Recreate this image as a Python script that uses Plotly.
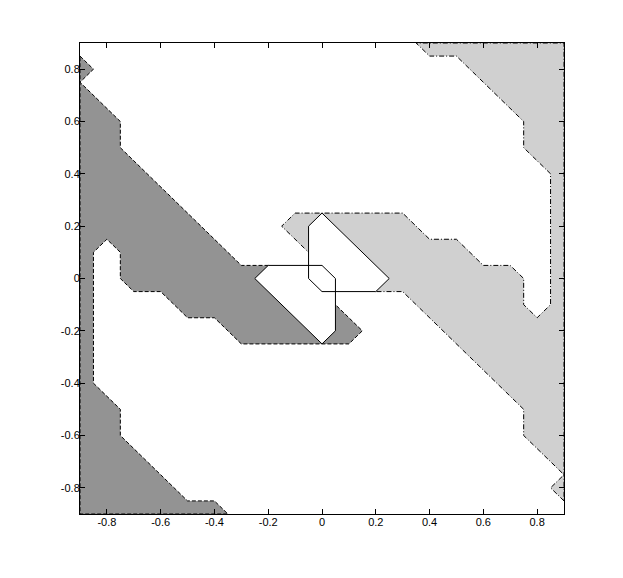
import plotly.graph_objects as go

# Dark region boundary (contour level, dark gray)
dark_x = [-0.9, -0.85, -0.9, -0.75, -0.75, -0.3, -0.2, 0.0, 0.05, 0.15, 0.1, -0.3, -0.4, -0.5,
          -0.6, -0.7, -0.75, -0.75, -0.8, -0.85, -0.85, -0.75, -0.75, -0.5, -0.4, -0.35, -0.9, -0.9]
dark_y = [0.85, 0.8, 0.75, 0.6, 0.5, 0.05, 0.05, -0.05, -0.1, -0.2, -0.25, -0.25, -0.15, -0.15,
          -0.05, -0.05, 0.0, 0.1, 0.15, 0.1, -0.4, -0.5, -0.6, -0.85, -0.85, -0.9, -0.9, 0.85]

# Light region boundary (point-symmetric counterpart)
light_x = [0.9, 0.85, 0.9, 0.75, 0.75, 0.3, 0.2, 0.0, -0.05, -0.15, -0.1, 0.3, 0.4, 0.5,
           0.6, 0.7, 0.75, 0.75, 0.8, 0.85, 0.85, 0.75, 0.75, 0.5, 0.4, 0.35, 0.9, 0.9]
light_y = [-0.85, -0.8, -0.75, -0.6, -0.5, -0.05, -0.05, 0.05, 0.1, 0.2, 0.25, 0.25, 0.15, 0.15,
           0.05, 0.05, 0.0, -0.1, -0.15, -0.1, 0.4, 0.5, 0.6, 0.85, 0.85, 0.9, 0.9, -0.85]

# White hexagons
hexa_x = [-0.25, -0.2, 0.0, 0.05, 0.05, 0.0, -0.25]
hexa_y = [0.0, 0.05, 0.05, 0.0, -0.2, -0.25, 0.0]
hexb_x = [0.25, 0.2, 0.0, -0.05, -0.05, 0.0, 0.25]
hexb_y = [0.0, -0.05, -0.05, 0.0, 0.2, 0.25, 0.0]

tick_vals = [-0.8, -0.6, -0.4, -0.2, 0, 0.2, 0.4, 0.6, 0.8]
tick_text = ["-0.8", "-0.6", "-0.4", "-0.2", "0", "0.2", "0.4", "0.6", "0.8"]

fig = go.Figure()
fig.add_trace(go.Scatter(x=dark_x, y=dark_y, mode="lines", fill="toself",
                         fillcolor="#939393",
                         line=dict(color="black", width=1, dash="4px,2px")))
fig.add_trace(go.Scatter(x=light_x, y=light_y, mode="lines", fill="toself",
                         fillcolor="#d0d0d0",
                         line=dict(color="black", width=1, dash="5px,2px,1px,2px")))
for hx, hy in [(hexa_x, hexa_y), (hexb_x, hexb_y)]:
    fig.add_trace(go.Scatter(x=hx, y=hy, mode="lines", fill="toself", fillcolor="white",
                             line=dict(color="rgba(0,0,0,0)", width=0)))
for hx, hy in [(hexa_x, hexa_y), (hexb_x, hexb_y)]:
    fig.add_trace(go.Scatter(x=hx, y=hy, mode="lines",
                             line=dict(color="black", width=1)))

axis_common = dict(range=[-0.9, 0.9], showgrid=False, zeroline=False, showline=True,
                   linecolor="black", linewidth=1, mirror="ticks", ticks="inside",
                   ticklen=5, tickcolor="black", tickwidth=1,
                   tickvals=tick_vals, ticktext=tick_text, automargin=False,
                   tickfont=dict(family="Liberation Sans, Arial", size=11, color="black"))

fig.update_layout(width=615, height=570, showlegend=False,
                  margin=dict(l=72, r=59, t=35, b=64),
                  paper_bgcolor="white", plot_bgcolor="white",
                  xaxis=dict(**axis_common, ticklabelstandoff=-2),
                  yaxis=dict(**axis_common, ticklabelstandoff=-3))

fig.write_html("out.html")
